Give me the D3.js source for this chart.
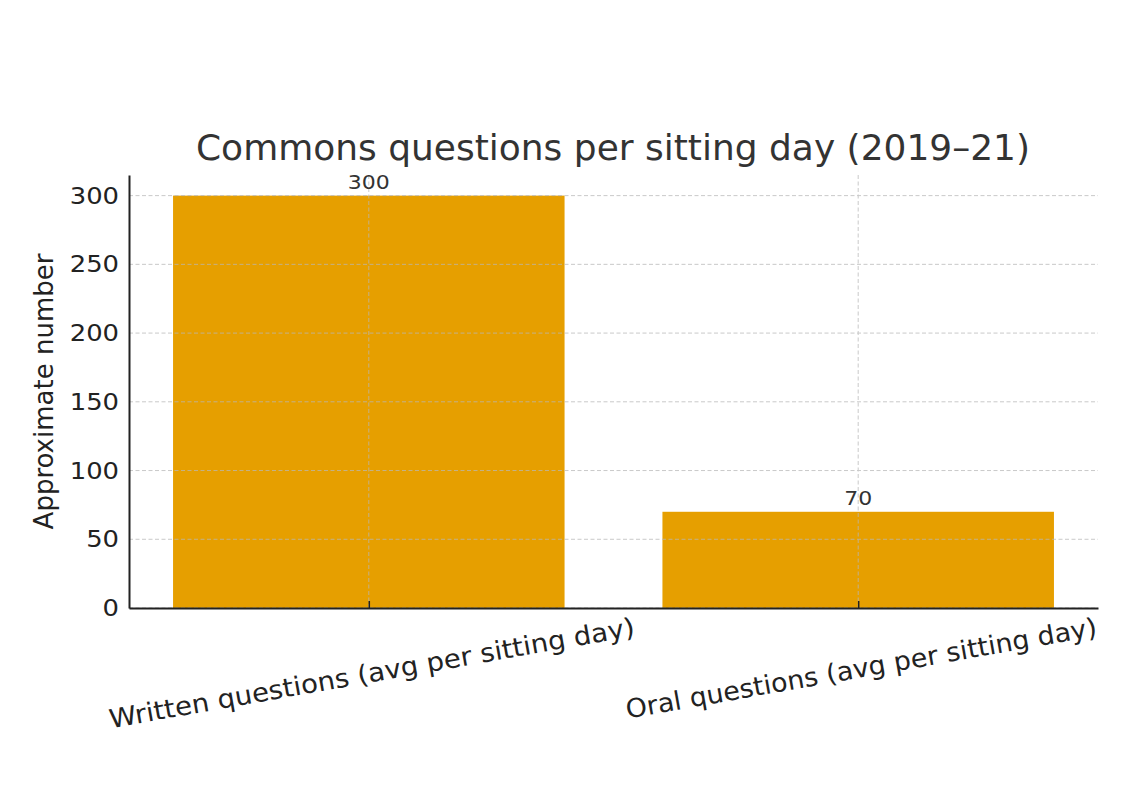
<!DOCTYPE html>
<html>
<head>
<meta charset="utf-8">
<script src="https://cdn.jsdelivr.net/npm/d3@7"></script>
<style>
  body { margin: 0; background: #fff; }
  svg { display: block; font-family: "DejaVu Sans", sans-serif; }
</style>
</head>
<body>
<div id="chart"></div>
<script>
// DATA
const categories = ["Written questions (avg per sitting day)", "Oral questions (avg per sitting day)"];
const values = [300, 70];
const yTicks = [0, 50, 100, 150, 200, 250, 300];

// LAYOUT
const width = 1140, height = 796;
const margin = {left: 129, right: 42, top: 175, bottom: 188};
const plotW = width - margin.left - margin.right;
const plotH = height - margin.top - margin.bottom;
const stretch = 1.1; // text in the picture looks a little wider than tall

const svg = d3.select("#chart").append("svg")
    .attr("width", width)
    .attr("height", height);

// Scales (matplotlib style: bars of width 0.8 and 5% margins)
const x = d3.scaleLinear().domain([-0.49, 1.49]).range([margin.left, margin.left + plotW]);
const y = d3.scaleLinear().domain([0, 315]).range([margin.top + plotH, margin.top]);

// Bars
svg.append("g")
    .selectAll("rect")
    .data(values)
    .enter().append("rect")
    .attr("x", (d, i) => x(i - 0.4))
    .attr("width", x(0.8) - x(0))
    .attr("y", d => y(d))
    .attr("height", d => y(0) - y(d))
    .attr("fill", "#E69F00");

// Grid lines on top, faint dashed
const grid = svg.append("g").attr("stroke", "#b8b8b8").attr("stroke-dasharray", "4,2.5")
    .attr("stroke-width", 1).attr("opacity", 0.75);
grid.selectAll("line.h")
    .data(yTicks)
    .enter().append("line")
    .attr("class", "h")
    .attr("x1", margin.left).attr("x2", margin.left + plotW)
    .attr("y1", d => y(d)).attr("y2", d => y(d));
grid.selectAll("line.v")
    .data(categories)
    .enter().append("line")
    .attr("class", "v")
    .attr("x1", (d, i) => x(i)).attr("x2", (d, i) => x(i))
    .attr("y1", margin.top).attr("y2", margin.top + plotH);

// Value labels
svg.append("g")
    .selectAll("text")
    .data(values)
    .enter().append("text")
    .attr("transform", (d, i) => `translate(${x(i)},${y(d) - 7}) scale(${stretch},1)`)
    .attr("text-anchor", "middle")
    .attr("font-size", 20)
    .attr("fill", "#333")
    .text(d => d);

// Y axis
const yAxis = svg.append("g")
    .attr("transform", `translate(${margin.left},0)`)
    .call(d3.axisLeft(y).tickValues(yTicks).tickSize(0).tickPadding(10));
yAxis.select(".domain").attr("stroke", "#222").attr("stroke-width", 2);
yAxis.selectAll("text")
    .attr("font-size", 23.5)
    .attr("fill", "#222")
    .attr("font-family", "DejaVu Sans")
    .attr("x", -10 / stretch)
    .attr("transform", `scale(${stretch},1)`);

// X axis with inward ticks
const xAxis = svg.append("g")
    .attr("transform", `translate(0,${margin.top + plotH})`)
    .call(d3.axisBottom(x).tickValues([0, 1]).tickSizeInner(-7).tickSizeOuter(0).tickFormat(""));
xAxis.select(".domain").attr("stroke", "#222").attr("stroke-width", 2);
xAxis.selectAll(".tick line").attr("stroke", "#222").attr("stroke-width", 1.5);

// Rotated category labels (rotation 10deg, centered, top aligned)
const angle = -10;
const rad = Math.abs(angle) * Math.PI / 180;
const labelLengths = [533, 478];
categories.forEach((c, i) => {
    const t = svg.append("text")
        .attr("text-anchor", "middle")
        .attr("dominant-baseline", "central")
        .attr("font-size", 26)
        .attr("fill", "#222")
        .attr("textLength", labelLengths[i])
        .attr("lengthAdjust", "spacingAndGlyphs")
        .text(c);
    const h = 26 * 1.15;
    const boxH = labelLengths[i] * Math.sin(rad) + h * Math.cos(rad);
    const cy = margin.top + plotH + 4 + boxH / 2;
    t.attr("transform", `translate(${x(i) + 3},${cy}) rotate(${angle})`);
});

// Y axis label
svg.append("text")
    .attr("transform", `translate(53,${margin.top + plotH / 2}) rotate(-90)`)
    .attr("text-anchor", "middle")
    .attr("font-size", 26)
    .attr("fill", "#222")
    .text("Approximate number");

// Title
svg.append("text")
    .attr("x", 613)
    .attr("y", 160)
    .attr("text-anchor", "middle")
    .attr("font-size", 35)
    .attr("fill", "#333")
    .attr("textLength", 834)
    .attr("lengthAdjust", "spacingAndGlyphs")
    .text("Commons questions per sitting day (2019–21)");
</script>
</body>
</html>
